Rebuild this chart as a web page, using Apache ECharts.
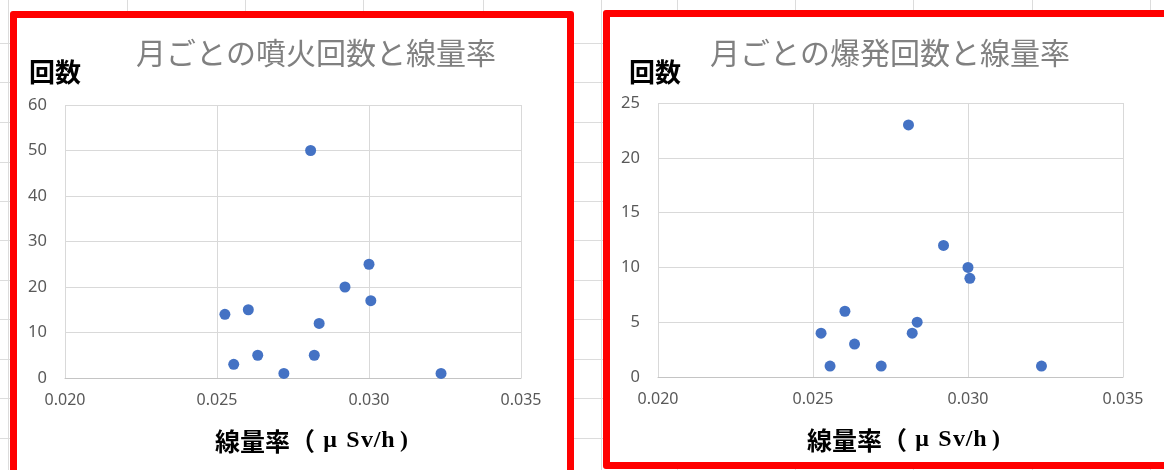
<!DOCTYPE html>
<html>
<head>
<meta charset="utf-8">
<title>月ごとの噴火・爆発回数と線量率</title>
<script src="https://cdn.jsdelivr.net/npm/echarts@6/dist/echarts.min.js"></script>
<style>
  html, body { margin: 0; padding: 0; width: 1164px; height: 470px; overflow: hidden; background: #ffffff; }
  #sheet { position: absolute; left: 0; top: 0; width: 1164px; height: 470px; }
  .vl { position: absolute; top: 0; width: 1px; height: 470px; background: #dcdcdc; }
  .hl { position: absolute; left: 0; height: 1px; width: 1164px; background: #dcdcdc; }
  .frame { position: absolute; box-sizing: border-box; border: 7px solid #ff0000; border-radius: 3px; background: #ffffff; }
  #chart { position: absolute; left: 0; top: 0; width: 1164px; height: 470px; }
</style>
</head>
<body>
<div id="sheet"></div>
<div class="frame" style="left:10px; top:11px; width:564px; height:480px;"></div>
<div class="frame" style="left:603px; top:10px; width:580px; height:459px;"></div>
<div id="chart"></div>
<script>
// Monthly mean dose rate (μSv/h), shared by both panels
const doseRate   = [0.02526, 0.02555, 0.02603, 0.02634, 0.0272, 0.02808, 0.0282, 0.02836, 0.02921, 0.0300, 0.03006, 0.03237];
// Monthly number of eruptions
const eruptions  = [14, 3, 15, 5, 1, 50, 5, 12, 20, 25, 17, 1];
// Monthly number of explosions
const explosions = [4, 1, 6, 3, 1, 23, 4, 5, 12, 10, 9, 1];

// Axis tick values
const xTicks          = [0.020, 0.025, 0.030, 0.035];
const eruptionTicks   = [0, 10, 20, 30, 40, 50, 60];
const explosionTicks  = [0, 5, 10, 15, 20, 25];

// Spreadsheet cell lines behind the chart frames
const sheetCols = [8, 127, 245, 363, 483, 601, 677, 795, 913, 1032, 1150];
const sheetRows = [43, 82, 122, 162, 201, 240, 280, 319, 359, 398, 438];
const sheet = document.getElementById('sheet');
sheetCols.forEach(x => { const d = document.createElement('div'); d.className = 'vl'; d.style.left = x + 'px'; sheet.appendChild(d); });
sheetRows.forEach(y => { const d = document.createElement('div'); d.className = 'hl'; d.style.top = y + 'px'; sheet.appendChild(d); });

const pairs = (xs, ys) => xs.map((x, i) => [x, ys[i]]);

const tickFont = '"Noto Sans", "DejaVu Sans", sans-serif';
const gridColor = '#d9d9d9';

function xAxisFor(gridIndex) {
  return {
    type: 'value', gridIndex,
    min: xTicks[0], max: xTicks[xTicks.length - 1], interval: xTicks[1] - xTicks[0],
    axisLine: { show: true, onZero: false, lineStyle: { color: '#c4c4c4', width: 1 } },
    axisTick: { show: false },
    axisLabel: { color: '#595959', fontSize: 16, fontFamily: tickFont, margin: 14,
                 formatter: v => v.toFixed(3) },
    splitLine: { show: true, lineStyle: { color: gridColor, width: 1 } }
  };
}
function yAxisFor(gridIndex, ticks) {
  return {
    type: 'value', gridIndex,
    min: ticks[0], max: ticks[ticks.length - 1], interval: ticks[1] - ticks[0],
    axisLine: { show: false }, axisTick: { show: false },
    axisLabel: { color: '#595959', fontSize: 16.5, fontFamily: tickFont, margin: 18 },
    splitLine: { show: true, lineStyle: { color: gridColor, width: 1 } }
  };
}

const titleStyle = { fill: '#808080', font: 'normal 30px "Noto Sans CJK JP", sans-serif', align: 'center', verticalAlign: 'middle' };
const yNameStyle = { fill: '#000000', font: 'bold 26px "Noto Sans CJK JP", sans-serif', align: 'center', verticalAlign: 'middle' };

// Axis title: CJK part plus fixed-pitch Latin cells, like a Mincho layout
const serifBold = '"Liberation Serif", "Noto Sans CJK JP", serif';
const latinCell = w => ({ fontSize: 24, fontWeight: 'bold', fontFamily: serifBold, color: '#000', width: w, align: 'center' });
const xNameRich = {
  j: { fontSize: 25, fontWeight: 'bold', fontFamily: '"Noto Sans CJK JP", sans-serif', color: '#000' },
  mu: latinCell(30), S: latinCell(16), v: latinCell(12), sl: latinCell(8), h: latinCell(14), rp: latinCell(18)
};
const xNameText = '{j|線量率（}{mu|μ}{S|S}{v|v}{sl|/}{h|h}{rp|)}';
const xNameStyle = { text: xNameText, rich: xNameRich, align: 'center', verticalAlign: 'middle' };

const chart = echarts.init(document.getElementById('chart'), null, { renderer: 'canvas' });
chart.setOption({
  backgroundColor: 'transparent',
  animation: false,
  grid: [
    { left: 65,  top: 105, width: 456, height: 273 },
    { left: 658, top: 103, width: 465, height: 274 }
  ],
  xAxis: [xAxisFor(0), xAxisFor(1)],
  yAxis: [yAxisFor(0, eruptionTicks), yAxisFor(1, explosionTicks)],
  series: [
    { name: '噴火回数', type: 'scatter', xAxisIndex: 0, yAxisIndex: 0, symbol: 'circle', symbolSize: 11,
      itemStyle: { color: '#4472c4', opacity: 1 }, data: pairs(doseRate, eruptions) },
    { name: '爆発回数', type: 'scatter', xAxisIndex: 1, yAxisIndex: 1, symbol: 'circle', symbolSize: 11,
      itemStyle: { color: '#4472c4', opacity: 1 }, data: pairs(doseRate, explosions) }
  ],
  graphic: [
    { type: 'text', x: 316, y: 53, style: Object.assign({ text: '月ごとの噴火回数と線量率' }, titleStyle) },
    { type: 'text', x: 890, y: 53, style: Object.assign({ text: '月ごとの爆発回数と線量率' }, titleStyle) },
    { type: 'text', x: 55,  y: 72, style: Object.assign({ text: '回数' }, yNameStyle) },
    { type: 'text', x: 655, y: 72, style: Object.assign({ text: '回数' }, yNameStyle) },
    { type: 'text', x: 314, y: 441, style: Object.assign({}, xNameStyle) },
    { type: 'text', x: 906, y: 440, style: Object.assign({}, xNameStyle) }
  ]
});
</script>
</body>
</html>
